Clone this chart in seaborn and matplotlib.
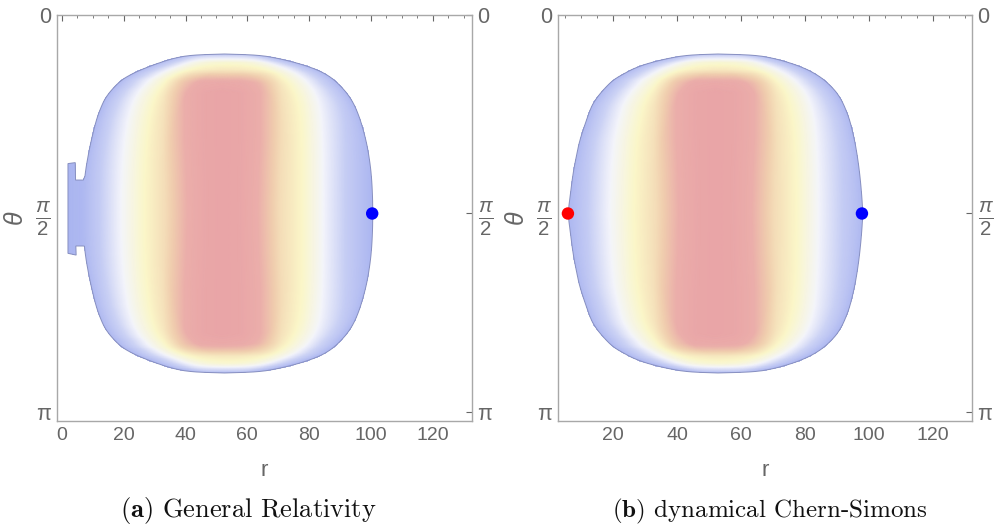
import numpy as np
import pandas as pd
import seaborn as sns
import matplotlib
matplotlib.use("Agg")
import matplotlib.pyplot as plt
from matplotlib.colors import LinearSegmentedColormap
from matplotlib.patches import Polygon
from matplotlib.ticker import MultipleLocator, FixedLocator

# ---------------- data ----------------
# upper half of the region boundary (lower half is mirror image about pi/2)
theta_upper = [0.3086, 0.3165, 0.3429, 0.3825, 0.4220, 0.4616, 0.5144, 0.5935,
               0.6594, 0.7254, 0.8309, 0.9892, 1.1211, 1.2530, 1.4112, np.pi / 2]
gr_r_outer = [52.6, 63.6, 70.0, 76.5, 81.4, 85.0, 88.2, 91.4,
              93.4, 94.9, 96.6, 98.4, 99.4, 100.1, 100.5, 100.6]
gr_r_inner = [52.6, 41.8, 36.0, 31.0, 26.7, 23.0, 19.2, 16.0,
              14.0, 12.7, 11.1, 9.5, 8.4, 7.5, 6.9, 6.8]
cs_r_outer = [52.8, 64.3, 70.3, 75.8, 79.9, 83.0, 86.1, 89.3,
              91.1, 92.4, 94.0, 95.5, 96.4, 97.1, 97.7, 98.1]
cs_r_inner = [52.8, 43.4, 37.2, 30.9, 26.6, 23.6, 20.0, 16.9,
              14.8, 13.2, 11.7, 9.6, 8.5, 7.5, 6.7, 5.9]
# small ledge on the inner side of the GR region (top to bottom)
gr_ledge_r = [6.9, 4.4, 4.3, 1.95, 1.95, 4.6, 4.5, 6.8]
gr_ledge_theta = [1.306, 1.306, 1.168, 1.176, 1.886, 1.900, 1.828, 1.828]

# colour profile across r (0 = blue edge, 1 = red core)
prof_r = [0, 6, 12, 18, 26, 33, 40, 46, 52, 58, 64, 71, 78, 85, 92, 100]
prof_v = [0, 0.02, 0.12, 0.3, 0.5, 0.62, 0.85, 0.97, 1.0, 0.97, 0.85, 0.62,
          0.5, 0.3, 0.12, 0.02]
core_r = 52.5
# slight narrowing of the core towards the equator
waist_dtheta = [0.0, 0.3, 0.6, 1.4]
waist_scale = [1.12, 1.08, 1.0, 1.0]
# fade towards the top / bottom rim (distance from equator)
prof_dtheta = [0.0, 0.95, 1.03, 1.08, 1.13, 1.19, 1.23, 1.265]
prof_dtheta_v = [1.0, 1.0, 0.92, 0.75, 0.57, 0.46, 0.25, 0.06]
# fade towards the side rims (distance in r from the boundary)
prof_edge_d = [0, 2, 5, 9, 14, 20, 26]
prof_edge_v = [0.03, 0.08, 0.15, 0.3, 0.5, 0.8, 1.0]

gr_point_r = [100.4]
cs_point_r = [97.8]
cs_red_point_r = [5.9]

panel_titles = [r"$\mathbf{(a)}$ General Relativity",
                r"$\mathbf{(b)}$ dynamical Chern-Simons"]

# ---------------- styling ----------------
sns.set_theme(style="white")
plt.rcParams["font.family"] = ["Liberation Sans", "DejaVu Sans"]
plt.rcParams["mathtext.fontset"] = "custom"
plt.rcParams["mathtext.rm"] = "Liberation Sans"
plt.rcParams["mathtext.it"] = "Liberation Sans:italic"
plt.rcParams["mathtext.bf"] = "Liberation Sans:bold"

GRAY = "#666666"
FRAME = "#a8a8a8"
cmap = LinearSegmentedColormap.from_list(
    "temp",
    [(0.0, "#a9b4f0"), (0.3, "#f4f5fb"), (0.5, "#fbf6c8"),
     (0.7, "#f0cdae"), (0.85, "#ebaeaa"), (1.0, "#e9a5a7")])

fig = plt.figure(figsize=(9.95, 5.3), dpi=100)
W, H = 995, 530
ax_a = fig.add_axes([57 / W, 1 - 421 / H, 415 / W, 406 / H])
ax_b = fig.add_axes([558 / W, 1 - 421 / H, 414 / W, 406 / H])

t_up = np.array(theta_upper)


def chaikin(x, y, n=2):
    """corner-cutting smoothing of an open curve (keeps end points)"""
    x = np.asarray(x, float)
    y = np.asarray(y, float)
    for _ in range(n):
        qx = 0.75 * x[:-1] + 0.25 * x[1:]
        qy = 0.75 * y[:-1] + 0.25 * y[1:]
        rx = 0.25 * x[:-1] + 0.75 * x[1:]
        ry = 0.25 * y[:-1] + 0.75 * y[1:]
        nx = np.empty(2 * len(qx))
        ny = np.empty(2 * len(qy))
        nx[0::2], nx[1::2] = qx, rx
        ny[0::2], ny[1::2] = qy, ry
        x = np.concatenate([[x[0]], nx, [x[-1]]])
        y = np.concatenate([[y[0]], ny, [y[-1]]])
    return x, y


def full_boundary(r_up):
    r_up = np.asarray(r_up, float)
    th = np.concatenate([t_up, np.pi - t_up[::-1][1:]])
    rr = np.concatenate([r_up, r_up[::-1][1:]])
    rr, th = chaikin(rr, th)
    return th, rr


def draw_panel(ax, r_out, r_in, xlim, ledge=None):
    th_o, r_o = full_boundary(r_out)
    th_i, r_i = full_boundary(r_in)
    if ledge is not None:
        lr, lt = ledge
        keep_top = th_i < lt[0]
        keep_bot = th_i > lt[-1]
        th_i = np.concatenate([th_i[keep_top], lt, th_i[keep_bot]])
        r_i = np.concatenate([r_i[keep_top], lr, r_i[keep_bot]])
    poly_r = np.concatenate([r_o, r_i[::-1]])
    poly_t = np.concatenate([th_o, th_i[::-1]])

    # colour field
    rg = np.linspace(-3, 135, 700)
    tg = np.linspace(0, np.pi * 1.03, 450)
    R, T = np.meshgrid(rg, tg)
    D = np.abs(T - np.pi / 2)
    dgrid = (np.pi / 2 - t_up)[::-1]
    rin = np.interp(D, dgrid, np.asarray(r_in, float)[::-1])
    rout = np.interp(D, dgrid, np.asarray(r_out, float)[::-1])
    dist = np.clip(np.minimum(R - rin, rout - R), 0, None)
    s = np.interp(D, waist_dtheta, waist_scale)
    s = 1 + (s - 1) * np.exp(-((R - core_r) / 16.0) ** 2)
    r_eff = core_r + (R - core_r) * s
    parts = [np.interp(r_eff, prof_r, prof_v),
             np.interp(D, prof_dtheta, prof_dtheta_v),
             np.interp(dist, prof_edge_d, prof_edge_v)]
    p = 3.5
    S = sum(np.clip(q, 1e-3, 1) ** (-p) for q in parts) - (len(parts) - 1)
    V = S ** (-1 / p)
    mesh = ax.pcolormesh(R, T, V, cmap=cmap, vmin=0, vmax=1,
                         shading="gouraud", rasterized=True)
    patch = Polygon(np.column_stack([poly_r, poly_t]), closed=True,
                    facecolor="none", edgecolor="#8890c0", lw=0.7, zorder=3)
    ax.add_patch(patch)
    mesh.set_clip_path(patch)

    ax.set_xlim(*xlim)
    ax.set_ylim(np.pi * 1.0227, 0)
    ax.xaxis.set_major_locator(FixedLocator([0, 20, 40, 60, 80, 100, 120]))
    ax.xaxis.set_minor_locator(MultipleLocator(5))
    ax.set_yticks([0, np.pi / 2, np.pi])
    ax.set_yticklabels(["0", r"$\frac{\pi}{2}$", "π"])
    ax.tick_params(axis="both", which="both", direction="in", top=True,
                   right=True, labelright=True, colors=GRAY,
                   labelcolor=GRAY, labelsize=14)
    ax.tick_params(axis="both", which="major", length=4.5, width=0.8, pad=4)
    ax.tick_params(axis="both", which="minor", length=2.5, width=0.6)
    ax.tick_params(axis="y", which="major", labelsize=15.5)
    for lab in ax.get_yticklabels(which="both"):
        if "frac" in lab.get_text():
            lab.set_fontsize(21)
    for sp in ax.spines.values():
        sp.set_color(FRAME)
        sp.set_linewidth(1.0)


draw_panel(ax_a, gr_r_outer, gr_r_inner, (-1.6, 132.7),
           ledge=(gr_ledge_r, gr_ledge_theta))
draw_panel(ax_b, cs_r_outer, cs_r_inner, (2.8, 132.2))

pts_a = pd.DataFrame({"r": gr_point_r, "theta": [np.pi / 2] * len(gr_point_r)})
pts_b = pd.DataFrame({"r": cs_point_r + cs_red_point_r,
                      "theta": [np.pi / 2] * 2,
                      "kind": ["blue", "red"]})
sns.scatterplot(data=pts_a, x="r", y="theta", ax=ax_a, color="#0000ff",
                s=80, edgecolor="none", zorder=5, legend=False)
sns.scatterplot(data=pts_b, x="r", y="theta", hue="kind", ax=ax_b,
                palette={"blue": "#0000ff", "red": "#ff0000"},
                s=80, edgecolor="none", zorder=5, legend=False)
for ax in (ax_a, ax_b):
    ax.set_xlabel("r", color=GRAY, fontsize=16)
    ax.set_ylabel(r"$\theta$", color=GRAY, fontsize=18)
    ax.xaxis.set_label_coords(0.5, -0.095)
    ax.yaxis.set_label_coords(-0.07, 0.5)

fig.text(248.5 / W, 1 - 511 / H, panel_titles[0], ha="center", va="center",
         fontsize=19, family="cmr10", math_fontfamily="cm", color="#111111")
fig.text(770 / W, 1 - 511 / H, panel_titles[1], ha="center", va="center",
         fontsize=18, family="cmr10", math_fontfamily="cm", color="#111111")

fig.savefig("out.png", dpi=100)
